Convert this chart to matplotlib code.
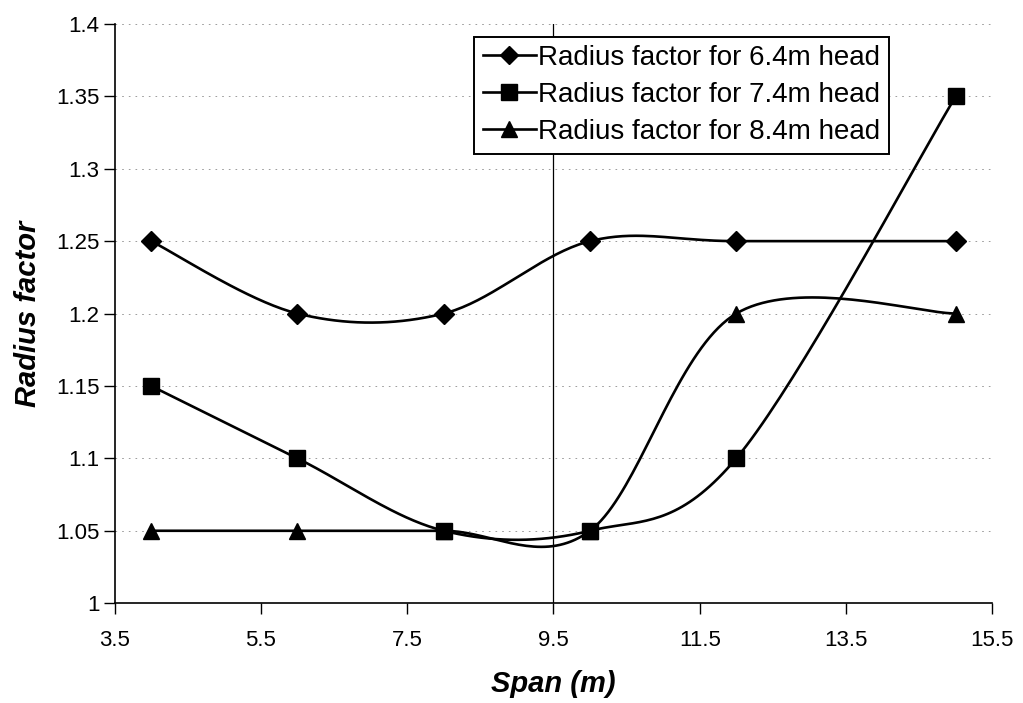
import numpy as np
import matplotlib
matplotlib.use("Agg")
import matplotlib.pyplot as plt

plt.rcParams['font.family'] = ['Liberation Sans', 'DejaVu Sans']

### Data ###
span = [4, 6, 8, 10, 12, 15]
head_64 = [1.25, 1.20, 1.20, 1.25, 1.25, 1.25]
head_74 = [1.15, 1.10, 1.05, 1.05, 1.10, 1.35]
head_84 = [1.05, 1.05, 1.05, 1.05, 1.20, 1.20]
labels = ["Radius factor for 6.4m head",
          "Radius factor for 7.4m head",
          "Radius factor for 8.4m head"]
markers = ["D", "s", "^"]
xticks = [3.5, 5.5, 7.5, 9.5, 11.5, 13.5, 15.5]
yticks = [1, 1.05, 1.1, 1.15, 1.2, 1.25, 1.3, 1.35, 1.4]
### End data ###

fig = plt.figure(figsize=(10.23, 7.03), dpi=100)
ax = fig.add_axes([0.112, 0.142, 0.858, 0.824])
ax.set_xlim(3.5, 15.5)
ax.set_ylim(1, 1.4)


def smooth(xs, ys, n=40):
    # Excel-like smoothed line: cubic bezier with catmull-rom tangents, in pixel space
    w, h = ax.bbox.width, ax.bbox.height
    sx = w / 12.0
    sy = h / 0.4
    P = np.column_stack([np.array(xs) * sx, np.array(ys) * sy])
    out = [P[0]]
    for i in range(len(P) - 1):
        p0 = P[i - 1] if i > 0 else P[i]
        p1, p2 = P[i], P[i + 1]
        p3 = P[i + 2] if i + 2 < len(P) else P[i + 1]
        c1 = p1 + (p2 - p0) / 6
        c2 = p2 - (p3 - p1) / 6
        t = np.linspace(0, 1, n)[1:, None]
        seg = ((1 - t) ** 3) * p1 + 3 * ((1 - t) ** 2) * t * c1 + 3 * (1 - t) * t ** 2 * c2 + t ** 3 * p2
        out.extend(seg)
    out = np.array(out)
    return out[:, 0] / sx, out[:, 1] / sy


for ys, lab, m in zip([head_64, head_74, head_84], labels, markers):
    cx, cy = smooth(span, ys)
    ax.plot(cx, cy, color='black', lw=1.9)
    ms = 10 if m == "D" else 12
    ax.plot(span, ys, linestyle='none', marker=m, color='black', ms=ms)
    ax.plot([], [], color='black', lw=1.9, marker=m, ms=ms - 1, label=lab)

ax.axvline(9.5, color='black', lw=0.9)

ax.set_xticks(xticks)
ax.set_xticklabels([str(t) for t in xticks])
ax.set_yticks(yticks)
ax.set_yticklabels(["1", "1.05", "1.1", "1.15", "1.2", "1.25", "1.3", "1.35", "1.4"])
ax.tick_params(labelsize=16, length=8, direction='out', color='black', width=1.0)
ax.tick_params(axis='x', pad=11)
ax.tick_params(axis='y', pad=3)
ax.yaxis.grid(True, linestyle=(0, (2, 6)), color='black', lw=0.6, alpha=0.45)

for s in ['top', 'right']:
    ax.spines[s].set_visible(False)
for s in ['left', 'bottom']:
    ax.spines[s].set_linewidth(1.2)

ax.set_xlabel("Span (m)", fontsize=21, fontweight='bold', style='italic', labelpad=14)
ax.set_ylabel("Radius factor", fontsize=21, fontweight='bold', style='italic', labelpad=10)

leg = ax.legend(loc='upper left', bbox_to_anchor=(0.41, 0.978), fontsize=20,
                frameon=True, fancybox=False, edgecolor='black', framealpha=1,
                handlelength=1.9, handletextpad=0.1, borderpad=0.3, labelspacing=0.4,
                borderaxespad=0)
leg.get_frame().set_linewidth(1.4)

fig.savefig("out.png", dpi=100)
